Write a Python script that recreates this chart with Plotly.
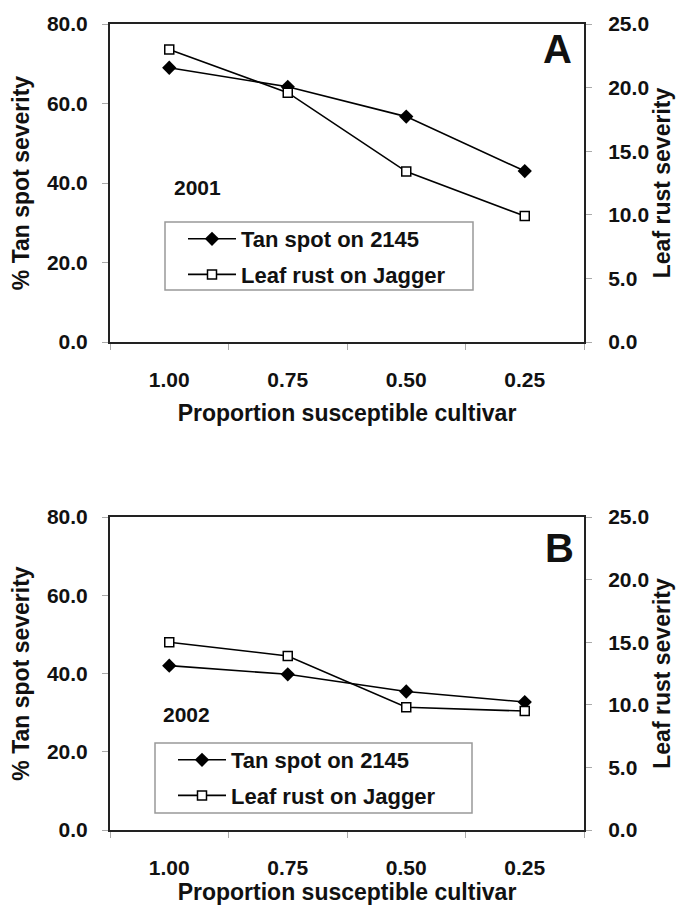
import plotly.graph_objects as go

categories = ["1.00", "0.75", "0.50", "0.25"]
tan_spot_2001 = [69.0, 64.2, 56.7, 43.0]
leaf_rust_2001 = [23.0, 19.6, 13.4, 9.9]
tan_spot_2002 = [42.0, 39.8, 35.4, 32.7]
leaf_rust_2002 = [15.0, 13.9, 9.8, 9.5]
left_ticks = [0, 20, 40, 60, 80]
right_ticks = [0, 5, 10, 15, 20, 25]

OFF = 8  # default page body margin
W, H = 685 - OFF, 905 - OFF
FONT = "Liberation Sans, Arial, sans-serif"

def px(x):
    return (x - OFF) / W

def py(y):
    return 1 - (y - OFF) / H

fig = go.Figure()

panels = [
    dict(tan=tan_spot_2001, rust=leaf_rust_2001, xa="x", ya="y", ya2="y2", legend="legend",
         top=24, bottom=342, year="2001", letter="A", year_xy=(197, 187), letter_xy=(557, 49),
         box=(165, 222, 473, 290)),
    dict(tan=tan_spot_2002, rust=leaf_rust_2002, xa="x2", ya="y3", ya2="y4", legend="legend2",
         top=517, bottom=830, year="2002", letter="B", year_xy=(186, 714), letter_xy=(559, 548),
         box=(155, 743, 472, 813)),
]

for i, p in enumerate(panels):
    fig.add_trace(go.Scatter(
        x=categories, y=p["tan"], name="Tan spot on 2145", mode="lines+markers",
        xaxis=p["xa"], yaxis=p["ya"], legend=p["legend"], legendgroup=f"t{i}",
        line=dict(color="black", width=1.6),
        marker=dict(symbol="diamond", size=11, color="black"),
    ))
    fig.add_trace(go.Scatter(
        x=categories, y=p["rust"], name="Leaf rust on Jagger", mode="lines+markers",
        xaxis=p["xa"], yaxis=p["ya2"], legend=p["legend"], legendgroup=f"r{i}",
        line=dict(color="black", width=1.6),
        marker=dict(symbol="square", size=9, color="white", line=dict(color="black", width=1.5)),
    ))

xdom = [px(110), px(584)]
axis_line = dict(showline=True, linecolor="#222", linewidth=2, showgrid=False, zeroline=False)
tickfont = dict(family=FONT, size=21, color="#111", weight="bold")
titlefont = dict(family=FONT, size=23, color="#111", weight="bold")

layout = dict(
    width=W, height=H, autosize=False,
    margin=dict(l=0, r=0, t=0, b=0),
    paper_bgcolor="white", plot_bgcolor="white",
    showlegend=True,
    font=dict(family=FONT, color="#111"),
)

for i, p in enumerate(panels):
    sfx = "" if i == 0 else "2"
    xname = "xaxis" + sfx
    yl = "yaxis" if i == 0 else "yaxis3"
    yr = "yaxis2" if i == 0 else "yaxis4"
    ydom = [py(p["bottom"]), py(p["top"])]
    yl_id = "y" if i == 0 else "y3"
    layout[xname] = dict(
        domain=xdom, anchor=yl_id, type="category", range=[-0.5, 3.5],
        tickson="boundaries", ticks="outside", ticklen=6, tickcolor="#aaa", tickwidth=1,
        mirror=True, tickfont=tickfont, ticklabelstandoff=18, automargin=False,
        title=dict(text="Proportion susceptible cultivar", font=titlefont, standoff=15),
        **axis_line,
    )
    layout[yl] = dict(
        domain=ydom, anchor="x" if i == 0 else "x2", range=[0, 80], tickvals=left_ticks,
        ticktext=[f"{v:.1f}" for v in left_ticks],
        ticks="outside", ticklen=6, tickcolor="#aaa", tickwidth=1,
        tickfont=tickfont, ticklabelstandoff=10, automargin=False,
        title=dict(text="% Tan spot severity", font=titlefont, standoff=12),
        **axis_line,
    )
    layout[yr] = dict(
        domain=ydom, anchor="x" if i == 0 else "x2", overlaying=yl_id, side="right",
        range=[0, 25], tickvals=right_ticks, ticktext=[f"{v:.1f}" for v in right_ticks],
        ticks="outside", ticklen=6, tickcolor="#aaa", tickwidth=1,
        tickfont=tickfont, ticklabelstandoff=12, automargin=False,
        title=dict(text="Leaf rust severity", font=titlefont, standoff=6),
        **axis_line,
    )
    x0, y0, x1, y1 = p["box"]
    layout[p["legend"]] = dict(
        x=px(x0 + 18), y=py(y0 - 4), xanchor="left", yanchor="top",
        bgcolor="rgba(0,0,0,0)", borderwidth=0,
        font=dict(family=FONT, size=22, color="#111", weight="bold"),
        tracegroupgap=4, itemwidth=48,
    )

fig.update_layout(**layout)

for p in panels:
    x0, y0, x1, y1 = p["box"]
    fig.add_shape(type="rect", xref="paper", yref="paper",
                  x0=px(x0), x1=px(x1), y0=py(y1), y1=py(y0),
                  line=dict(color="#999", width=1.5), fillcolor="rgba(0,0,0,0)", layer="below")
    fig.add_annotation(text=p["year"], xref="paper", yref="paper",
                       x=px(p["year_xy"][0]), y=py(p["year_xy"][1]),
                       xanchor="center", yanchor="middle",
                       showarrow=False, font=dict(family=FONT, size=21, color="#111", weight="bold"))
    fig.add_annotation(text=p["letter"], xref="paper", yref="paper",
                       x=px(p["letter_xy"][0]), y=py(p["letter_xy"][1]),
                       xanchor="center", yanchor="middle",
                       showarrow=False, font=dict(family=FONT, size=40, color="#111", weight="bold"))

fig.write_html("out.html")
